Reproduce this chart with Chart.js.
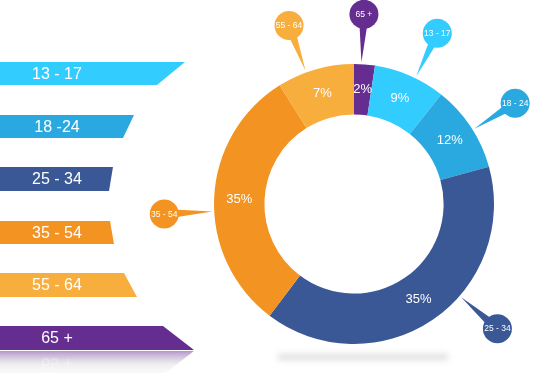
<!DOCTYPE html>
<html>
<head>
<meta charset="utf-8">
<script src="https://cdn.jsdelivr.net/npm/chart.js@4.4.0/dist/chart.umd.min.js"></script>
<style>
  html, body { margin: 0; padding: 0; background: #fff; }
  #wrap { width: 533px; height: 373px; }
</style>
</head>
<body>
<div id="wrap"><canvas id="ageChart" width="533" height="373"></canvas></div>
<script>
/* Audience by age: doughnut with a banner legend on the left and callout bubbles. */

const AGE_GROUPS = ['65 +', '13 - 17', '18 - 24', '25 - 34', '35 - 54', '55 - 64'];
// arc sizes as they are drawn (the artwork doesn't quite match its own printed numbers)
const SLICE_SHARES = [2.4, 8.3, 10.0, 39.6, 30.8, 8.9];
const SHARE_LABELS = ['2%', '9%', '12%', '35%', '35%', '7%'];
const BANNER_LABELS = ['13 - 17', '18 -24', '25 - 34', '35 - 54', '55 - 64', '65 +'];
const BANNER_SLICE = [1, 2, 3, 4, 5, 0];   // slice each banner borrows its colour from

const AGE_COLOURS = ['#662d91', '#33ccff', '#2aa8e0', '#3b5896', '#f39322', '#f8ae3c'];
const FONT = '"Liberation Sans", Arial, sans-serif';

function polar(cx, cy, r, deg) {
    const a = deg * Math.PI / 180;
    return { x: cx + Math.sin(a) * r, y: cy - Math.cos(a) * r };
}

function drawBanner(ctx, b, colour, label) {
    ctx.fillStyle = colour;
    ctx.beginPath();
    ctx.moveTo(0, b.top);
    ctx.lineTo(b.tr, b.top);
    ctx.lineTo(b.br, b.bottom);
    ctx.lineTo(0, b.bottom);
    ctx.closePath();
    ctx.fill();
    ctx.fillStyle = '#fff';
    ctx.font = `16px ${FONT}`;
    ctx.textAlign = 'center';
    ctx.textBaseline = 'middle';
    ctx.fillText(label, 57, (b.top + b.bottom) / 2 + 1);
}

function drawReflection(ctx, b, label) {
    const y0 = b.bottom + 1, h = 24;
    ctx.save();
    ctx.beginPath();
    ctx.moveTo(0, y0);
    ctx.lineTo(b.br, y0);
    ctx.lineTo(b.tr, y0 + h);
    ctx.lineTo(0, y0 + h);
    ctx.closePath();
    const g = ctx.createLinearGradient(0, y0, 0, y0 + h);
    g.addColorStop(0, 'rgba(102,45,145,0.5)');
    g.addColorStop(0.6, 'rgba(200,200,205,0.25)');
    g.addColorStop(1, 'rgba(235,235,235,0.2)');
    ctx.fillStyle = g;
    ctx.fill();
    ctx.clip();
    // upside-down copy of the label, faded
    ctx.translate(0, 2 * b.bottom + 1);
    ctx.scale(1, -1);
    ctx.globalAlpha = 0.3;
    ctx.fillStyle = '#fff';
    ctx.font = `16px ${FONT}`;
    ctx.textAlign = 'center';
    ctx.textBaseline = 'middle';
    ctx.fillText(label, 57, (b.top + b.bottom) / 2 + 1);
    ctx.restore();
}

function drawCallout(ctx, cx, cy, rOuter, deg, colour, label) {
    const bub = polar(cx, cy, rOuter + 50, deg);
    const tip = polar(cx, cy, rOuter + 2, deg);
    const a = deg * Math.PI / 180;
    const px = Math.cos(a) * 5, py = Math.sin(a) * 5;
    ctx.fillStyle = colour;
    ctx.beginPath();
    ctx.moveTo(bub.x + px, bub.y + py);
    ctx.lineTo(tip.x, tip.y);
    ctx.lineTo(bub.x - px, bub.y - py);
    ctx.closePath();
    ctx.fill();
    ctx.beginPath();
    ctx.arc(bub.x, bub.y, 14.5, 0, Math.PI * 2);
    ctx.fill();
    ctx.fillStyle = '#fff';
    ctx.font = `8.5px ${FONT}`;
    ctx.textAlign = 'center';
    ctx.textBaseline = 'middle';
    ctx.fillText(label, bub.x, bub.y + 0.5);
}

const ageDecor = {
    id: 'ageDecor',
    beforeDatasetsDraw(chart, args, opts) {
        const ctx = chart.ctx;
        const arc = chart.getDatasetMeta(0).data[0];
        const { x, y } = arc.getProps(['x', 'y'], true);

        // soft floor shadow under the ring
        ctx.save();
        ctx.filter = 'blur(3px)';
        ctx.fillStyle = 'rgba(0,0,0,0.13)';
        ctx.fillRect(x - 76, y + 150, 170, 6);
        ctx.restore();

        // banner legend
        ctx.save();
        opts.banners.forEach((b, i) => {
            drawBanner(ctx, b, AGE_COLOURS[BANNER_SLICE[i]], BANNER_LABELS[i]);
        });
        const last = opts.banners.length - 1;
        drawReflection(ctx, opts.banners[last], BANNER_LABELS[last]);
        ctx.restore();
    },
    afterDatasetsDraw(chart, args, opts) {
        const ctx = chart.ctx;
        const arcs = chart.getDatasetMeta(0).data;
        const { x, y, outerRadius } = arcs[0].getProps(['x', 'y', 'outerRadius'], true);

        ctx.save();
        arcs.forEach((arc, i) => {
            drawCallout(ctx, x, y, outerRadius, opts.calloutAngles[i], AGE_COLOURS[i], AGE_GROUPS[i]);
            const p = arc.tooltipPosition(true);
            ctx.fillStyle = '#fff';
            ctx.font = `13px ${FONT}`;
            ctx.textAlign = 'center';
            ctx.textBaseline = 'middle';
            ctx.fillText(SHARE_LABELS[i], p.x, p.y);
        });
        ctx.restore();
    },
};

new Chart(document.getElementById('ageChart'), {
    type: 'doughnut',
    data: {
        labels: AGE_GROUPS,
        datasets: [{
            data: SLICE_SHARES,
            backgroundColor: AGE_COLOURS,
            borderWidth: 0,
            hoverOffset: 0,
        }],
    },
    options: {
        responsive: false,
        animation: false,
        events: [],
        cutout: '64%',
        layout: { padding: { left: 214, right: 39, top: 64, bottom: 29 } },
        plugins: {
            legend: { display: false },
            tooltip: { enabled: false },
            ageDecor: {
                banners: [
                    { top: 62, bottom: 85, tr: 185, br: 157 },
                    { top: 115, bottom: 138, tr: 134, br: 123 },
                    { top: 167, bottom: 191, tr: 113, br: 109 },
                    { top: 221, bottom: 244, tr: 110, br: 114 },
                    { top: 273, bottom: 297, tr: 124, br: 137 },
                    { top: 326, bottom: 350, tr: 163, br: 194 },
                ],
                // compass angle of each bubble, clockwise from 12 o'clock
                calloutAngles: [3, 26, 58, 131, 267, 340],
            },
        },
    },
    plugins: [ageDecor],
});
</script>
</body>
</html>
